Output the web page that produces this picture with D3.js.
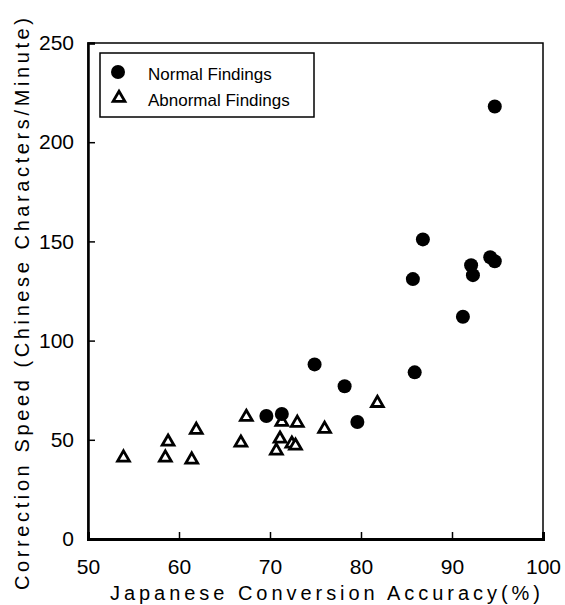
<!DOCTYPE html>
<html>
<head>
<meta charset="utf-8">
<script src="https://cdn.jsdelivr.net/npm/d3@7"></script>
<style>
  body { margin: 0; background: #fff; }
  text { font-family: "Liberation Sans", Arial, sans-serif; fill: #000; }
</style>
</head>
<body>
<div id="wrapper"></div>
<script>
// Normal findings (filled circles)
const normalAccuracy = [94.7, 86.8, 94.2, 94.7, 92.1, 92.3, 85.7, 91.2, 85.9, 74.9, 78.2, 79.6, 69.6, 71.3]
const normalSpeed    = [218, 151, 142, 140, 138, 133, 131, 112, 84, 88, 77, 59, 62, 63]
// Abnormal findings (open triangles)
const abnormalAccuracy = [53.9, 58.5, 58.8, 61.4, 61.9, 66.8, 67.4, 70.7, 71.1, 71.3, 72.4, 72.8, 73.0, 76.0, 81.8]
const abnormalSpeed    = [41, 41, 49, 40, 55, 48.5, 61.5, 44.5, 50.5, 59, 48, 47, 58.5, 55.5, 68.5]

const xTicks = [50, 60, 70, 80, 90, 100]
const yTicks = [0, 50, 100, 150, 200, 250]

const normal = normalAccuracy.map((x, i) => ({x: x, y: normalSpeed[i]}))
const abnormal = abnormalAccuracy.map((x, i) => ({x: x, y: abnormalSpeed[i]}))

const width = 565
const height = 605
const margin = {top: 43, right: 22, bottom: 66, left: 88}

const xScale = d3.scaleLinear()
  .domain([50, 100])
  .range([margin.left, width - margin.right])

const yScale = d3.scaleLinear()
  .domain([0, 250])
  .range([height - margin.bottom, margin.top])

const svg = d3.select("#wrapper")
  .append("svg")
    .attr("width", width)
    .attr("height", height)

// frame
svg.append("rect")
  .attr("x", xScale(50))
  .attr("y", yScale(250))
  .attr("width", xScale(100) - xScale(50))
  .attr("height", yScale(0) - yScale(250))
  .attr("fill", "none")
  .attr("stroke", "#000")
  .attr("stroke-width", 1.5)

// axes, ticks pointing inward
const xAxis = d3.axisBottom(xScale)
  .tickValues(xTicks)
  .tickSize(-7)
  .tickPadding(20)

const yAxis = d3.axisLeft(yScale)
  .tickValues(yTicks)
  .tickSize(-7)
  .tickPadding(14)

const gx = svg.append("g")
  .attr("transform", `translate(0, ${yScale(0)})`)
  .call(xAxis)
gx.select(".domain").attr("stroke-width", 3)
gx.selectAll(".tick line").attr("stroke-width", 1.5)
gx.selectAll(".tick text")
  .attr("font-size", 21)
  .attr("dy", "0.72em")
  .style("font-family", "Liberation Sans, Arial, sans-serif")

const gy = svg.append("g")
  .attr("transform", `translate(${xScale(50)}, 0)`)
  .call(yAxis)
gy.select(".domain").attr("stroke-width", 2.5)
gy.selectAll(".tick line").attr("stroke-width", 1.5)
gy.selectAll(".tick text")
  .attr("font-size", 21)
  .style("font-family", "Liberation Sans, Arial, sans-serif")

// axis titles
svg.append("text")
  .attr("x", 325)
  .attr("y", 600)
  .attr("text-anchor", "middle")
  .attr("font-size", 20)
  .attr("textLength", 430)
  .attr("lengthAdjust", "spacing")
  .text("Japanese Conversion Accuracy(%)")

svg.append("text")
  .attr("transform", `translate(29, 304) rotate(-90)`)
  .attr("text-anchor", "middle")
  .attr("font-size", 20)
  .attr("textLength", 572)
  .attr("lengthAdjust", "spacing")
  .text("Correction Speed (Chinese Characters/Minute)")

// marks
const triangle = d3.symbol().type(d3.symbolTriangle).size(60)

svg.append("g")
  .selectAll("path")
  .data(abnormal)
  .enter().append("path")
    .attr("d", triangle)
    .attr("transform", d => `translate(${xScale(d.x)}, ${yScale(d.y)})`)
    .attr("fill", "#fff")
    .attr("stroke", "#000")
    .attr("stroke-width", 2.8)

svg.append("g")
  .selectAll("circle")
  .data(normal)
  .enter().append("circle")
    .attr("cx", d => xScale(d.x))
    .attr("cy", d => yScale(d.y))
    .attr("r", 7)
    .attr("fill", "#000")

// legend
const legend = svg.append("g")
legend.append("rect")
  .attr("x", 100)
  .attr("y", 53)
  .attr("width", 214)
  .attr("height", 64)
  .attr("fill", "#fff")
  .attr("stroke", "#000")
  .attr("stroke-width", 1.5)

legend.append("circle")
  .attr("cx", 118)
  .attr("cy", 72)
  .attr("r", 7)
  .attr("fill", "#000")

legend.append("path")
  .attr("d", triangle)
  .attr("transform", "translate(119, 98)")
  .attr("fill", "#fff")
  .attr("stroke", "#000")
  .attr("stroke-width", 2.8)

legend.append("text")
  .attr("x", 148)
  .attr("y", 80)
  .attr("font-size", 17)
  .text("Normal Findings")

legend.append("text")
  .attr("x", 148)
  .attr("y", 106)
  .attr("font-size", 17)
  .text("Abnormal Findings")
</script>
</body>
</html>
